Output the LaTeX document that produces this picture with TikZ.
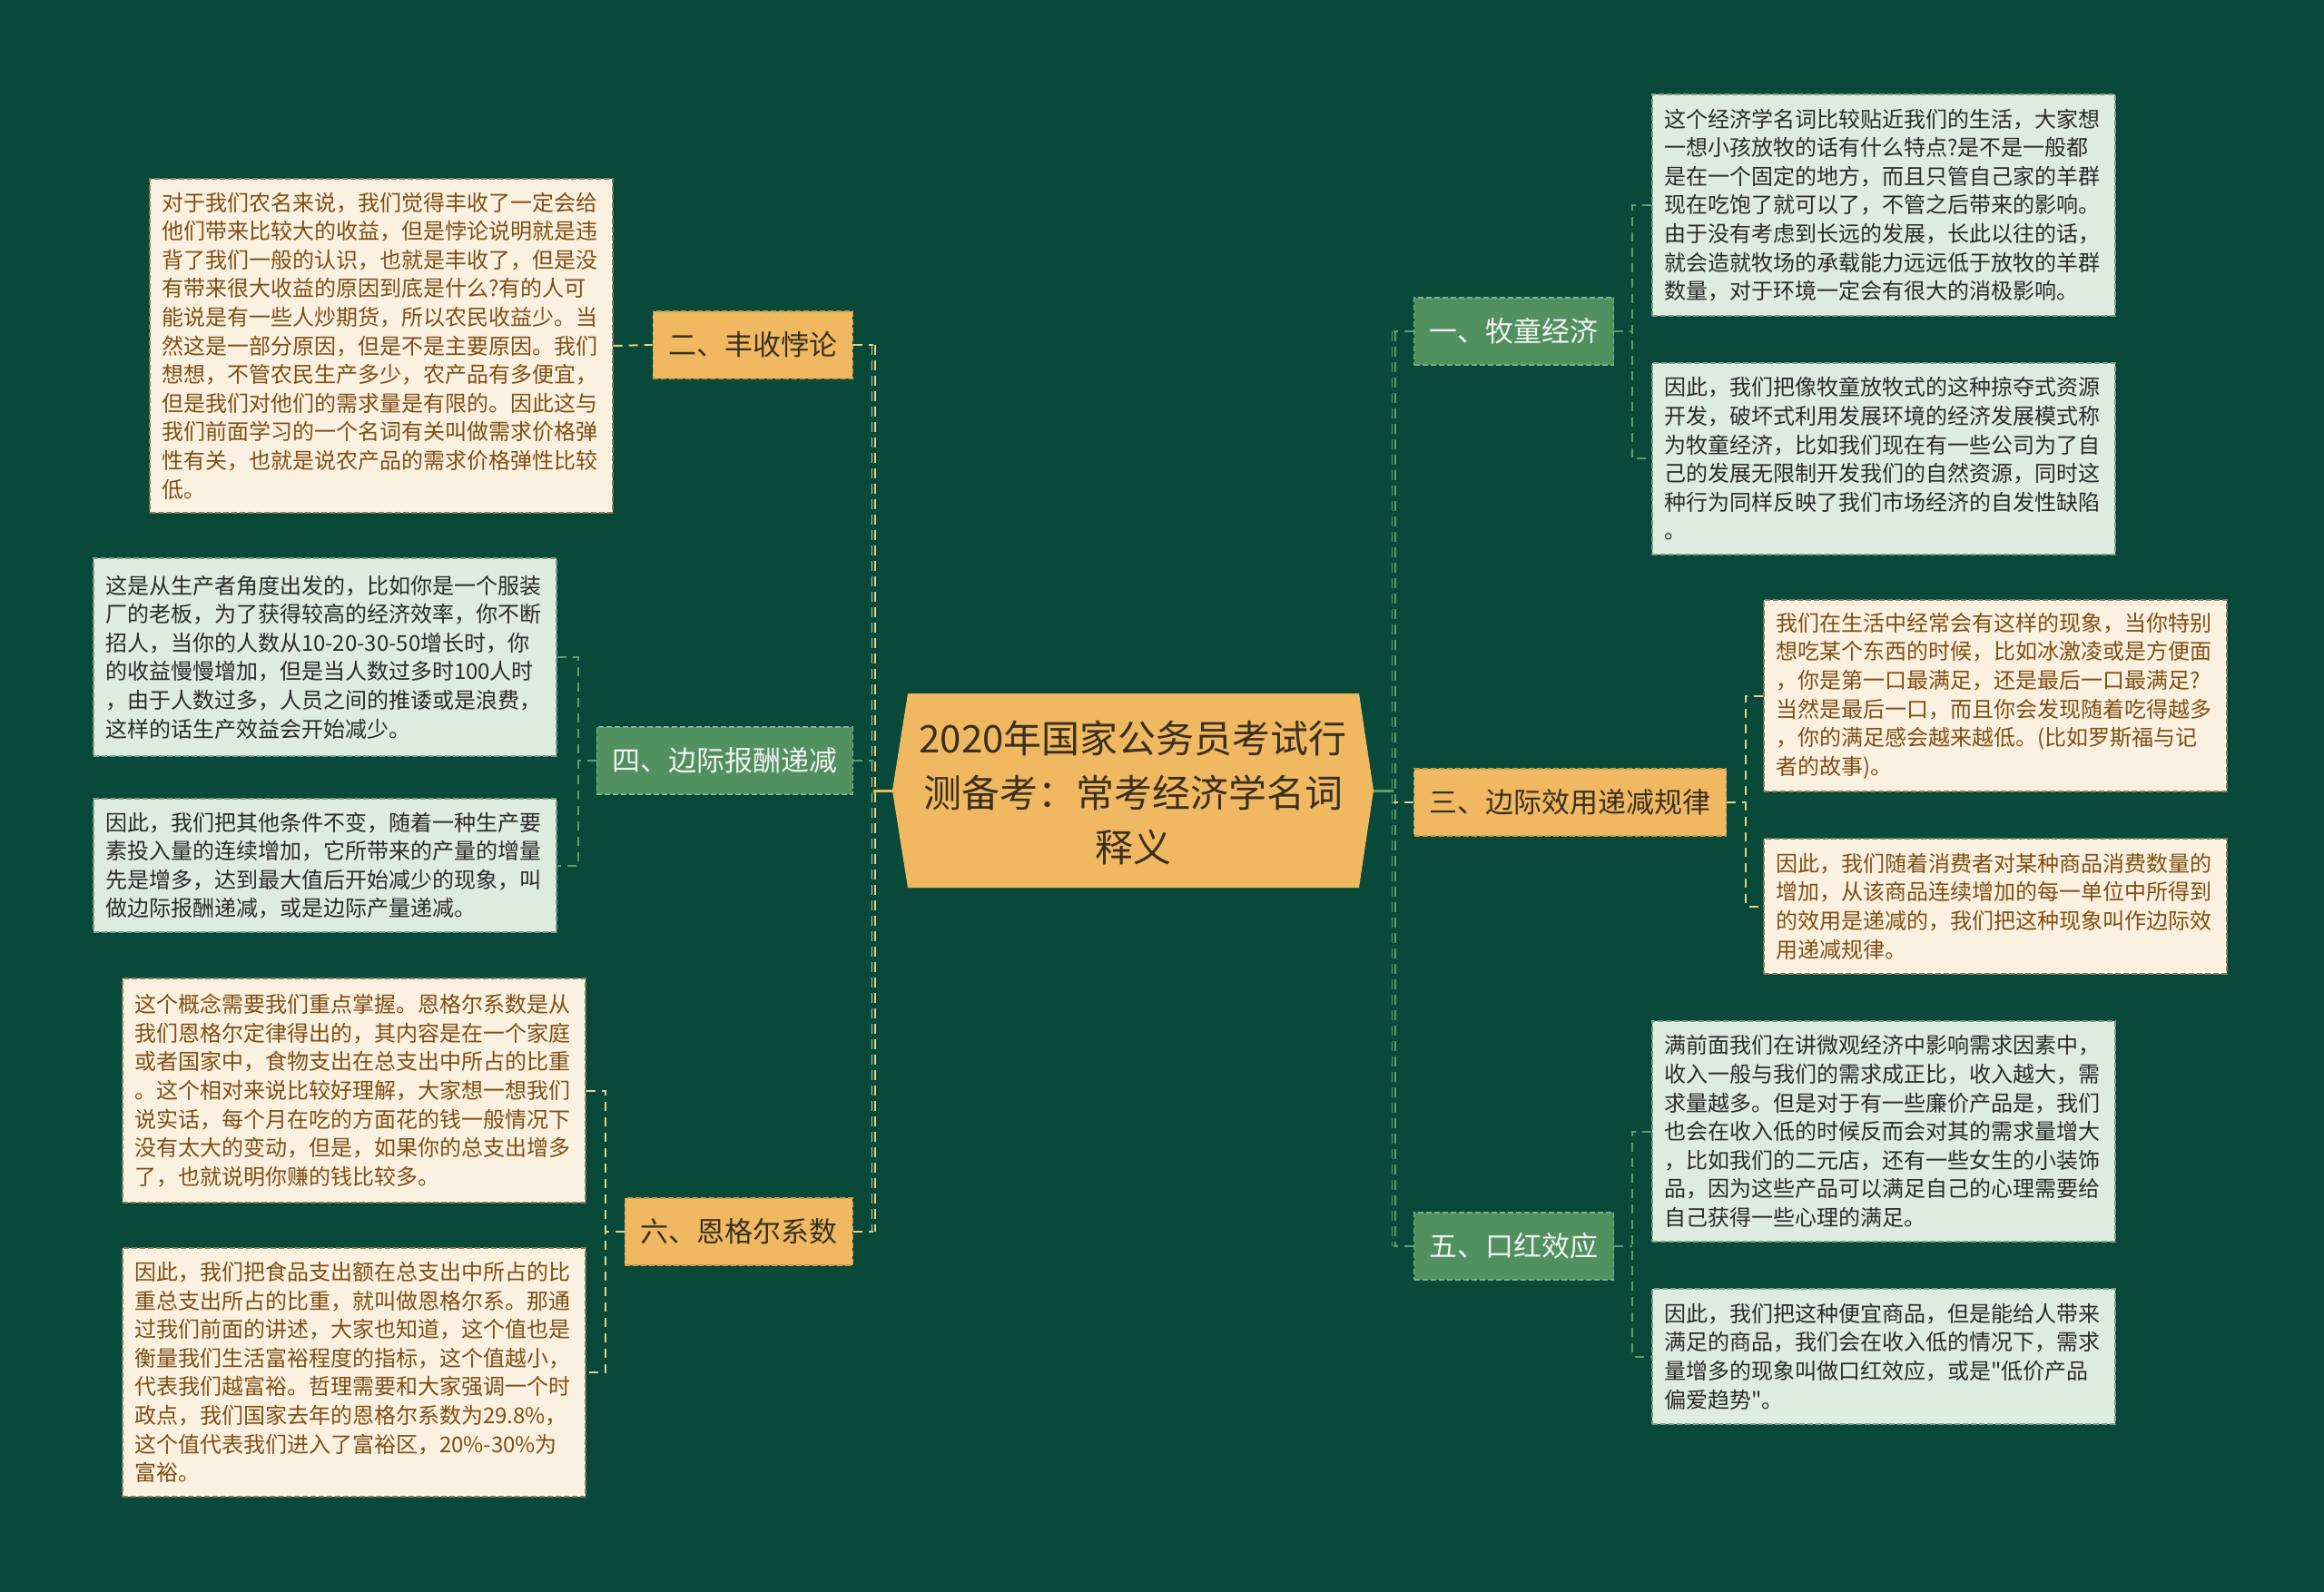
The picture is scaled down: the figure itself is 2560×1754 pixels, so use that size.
\documentclass[tikz,border=0pt]{standalone}
\usepackage{fontspec}
\setmainfont{Noto Sans CJK SC}[Ligatures=TeXOff]
\definecolor{bgc}{HTML}{08493A}
\definecolor{orF}{HTML}{F0B961}
\definecolor{orD}{HTML}{C99A48}
\definecolor{grF}{HTML}{50915F}
\definecolor{grD}{HTML}{7DB38A}
\definecolor{crF}{HTML}{FBF1E1}
\definecolor{crD}{HTML}{8C7A58}
\definecolor{lgF}{HTML}{DDEBE1}
\definecolor{lgD}{HTML}{7E9C88}
\definecolor{brT}{HTML}{7F4F14}
\definecolor{dkT}{HTML}{2B2B2B}
\definecolor{obT}{HTML}{3A3020}
\definecolor{lnY}{HTML}{E6CF8A}
\definecolor{lnG}{HTML}{5E9E6E}
\definecolor{lnO}{HTML}{E9B860}
\begin{document}
\begin{tikzpicture}[x=0.5pt,y=-0.5pt,
  leafbase/.style={rectangle, line width=0.7pt, dash pattern=on 3pt off 1.5pt,
    font=\fontsize{12}{15.8}\selectfont, align=left, text width=242pt,
    inner sep=0pt, minimum width=255pt},
  leafC/.style={leafbase, fill=crF, draw=crD, text=brT},
  leafG/.style={leafbase, fill=lgF, draw=lgD, text=dkT},
  brbase/.style={rectangle, line width=0.7pt, dash pattern=on 3pt off 1.5pt,
    font=\fontsize{15.5}{18}\selectfont, inner xsep=8.5pt, inner ysep=0pt,
    minimum height=37pt},
  brO/.style={brbase, fill=orF, draw=orD, text=obT},
  brG/.style={brbase, fill=grF, draw=grD, text=white!95!black},
  lkY/.style={draw=lnY, line width=1pt, dash pattern=on 5pt off 3.5pt},
  lkG/.style={draw=lnG, line width=1pt, dash pattern=on 5pt off 3.5pt},
  trunkY/.style={draw=lnY, double=bgc, line width=0.8pt, double distance=0.9pt, dash pattern=on 5.5pt off 3pt},
  trunkG/.style={draw=lnG, double=bgc, line width=0.8pt, double distance=0.9pt, dash pattern=on 5.5pt off 3pt},
]
\fill[bgc] (0,0) rectangle (2560,1754);
\useasboundingbox (0,0) rectangle (2560,1754);

% central node
\coordinate (cL) at (983,871);
\coordinate (cR) at (1513,871);
\fill[orF] (cL) -- (1000,764) -- (1497,764) -- (cR) -- (1497,978) -- (1000,978) -- cycle;
\node[font=\fontsize{21}{30}\selectfont, text=obT, align=center, inner sep=0pt] (c) at (1248,873)
  {2020年国家公务员考试行\\测备考：常考经济学名词\\释义};

% branches
\node[brO, anchor=east] (B2) at (940,380) {二、丰收悖论};
\node[brG, anchor=east] (B4) at (940,838) {四、边际报酬递减};
\node[brO, anchor=east] (B6) at (940,1357) {六、恩格尔系数};
\node[brG, anchor=west] (B1) at (1557,365) {一、牧童经济};
\node[brO, anchor=west] (B3) at (1557,884) {三、边际效用递减规律};
\node[brG, anchor=west] (B5) at (1557,1373) {五、口红效应};

% leaves
\node[leafC, minimum height=184pt] (L1) at (420,381) {对于我们农名来说，我们觉得丰收了一定会给\\他们带来比较大的收益，但是悖论说明就是违\\背了我们一般的认识，也就是丰收了，但是没\\有带来很大收益的原因到底是什么?有的人可\\能说是有一些人炒期货，所以农民收益少。当\\然这是一部分原因，但是不是主要原因。我们\\想想，不管农民生产多少，农产品有多便宜，\\但是我们对他们的需求量是有限的。因此这与\\我们前面学习的一个名词有关叫做需求价格弹\\性有关，也就是说农产品的需求价格弹性比较\\低。};
\node[leafG, minimum height=109pt] (L2) at (358,724) {这是从生产者角度出发的，比如你是一个服装\\厂的老板，为了获得较高的经济效率，你不断\\招人，当你的人数从10-20-30-50增长时，你\\的收益慢慢增加，但是当人数过多时100人时\\，由于人数过多，人员之间的推诿或是浪费，\\这样的话生产效益会开始减少。};
\node[leafG, minimum height=73.5pt] (L3) at (358,953.5) {因此，我们把其他条件不变，随着一种生产要\\素投入量的连续增加，它所带来的产量的增量\\先是增多，达到最大值后开始减少的现象，叫\\做边际报酬递减，或是边际产量递减。};
\node[leafC, minimum height=123.5pt] (L4) at (390,1201.5) {这个概念需要我们重点掌握。恩格尔系数是从\\我们恩格尔定律得出的，其内容是在一个家庭\\或者国家中，食物支出在总支出中所占的比重\\。这个相对来说比较好理解，大家想一想我们\\说实话，每个月在吃的方面花的钱一般情况下\\没有太大的变动，但是，如果你的总支出增多\\了，也就说明你赚的钱比较多。};
\node[leafC, minimum height=137pt] (L5) at (390,1512) {因此，我们把食品支出额在总支出中所占的比\\重总支出所占的比重，就叫做恩格尔系。那通\\过我们前面的讲述，大家也知道，这个值也是\\衡量我们生活富裕程度的指标，这个值越小，\\代表我们越富裕。哲理需要和大家强调一个时\\政点，我们国家去年的恩格尔系数为29.8\%，\\这个值代表我们进入了富裕区，20\%-30\%为\\富裕。};
\node[leafG, minimum height=122pt] (R1) at (2075,226) {这个经济学名词比较贴近我们的生活，大家想\\一想小孩放牧的话有什么特点?是不是一般都\\是在一个固定的地方，而且只管自己家的羊群\\现在吃饱了就可以了，不管之后带来的影响。\\由于没有考虑到长远的发展，长此以往的话，\\就会造就牧场的承载能力远远低于放牧的羊群\\数量，对于环境一定会有很大的消极影响。};
\node[leafG, minimum height=105.5pt] (R2) at (2075,505.5) {因此，我们把像牧童放牧式的这种掠夺式资源\\开发，破坏式利用发展环境的经济发展模式称\\为牧童经济，比如我们现在有一些公司为了自\\己的发展无限制开发我们的自然资源，同时这\\种行为同样反映了我们市场经济的自发性缺陷\\。};
\node[leafC, minimum height=105.5pt] (R3) at (2198,766.5) {我们在生活中经常会有这样的现象，当你特别\\想吃某个东西的时候，比如冰激凌或是方便面\\，你是第一口最满足，还是最后一口最满足?\\当然是最后一口，而且你会发现随着吃得越多\\，你的满足感会越来越低。(比如罗斯福与记\\者的故事)。};
\node[leafC, minimum height=74.5pt] (R4) at (2198,998.5) {因此，我们随着消费者对某种商品消费数量的\\增加，从该商品连续增加的每一单位中所得到\\的效用是递减的，我们把这种现象叫作边际效\\用递减规律。};
\node[leafG, minimum height=121.5pt] (R5) at (2075,1246.5) {满前面我们在讲微观经济中影响需求因素中，\\收入一般与我们的需求成正比，收入越大，需\\求量越多。但是对于有一些廉价产品是，我们\\也会在收入低的时候反而会对其的需求量增大\\，比如我们的二元店，还有一些女生的小装饰\\品，因为这些产品可以满足自己的心理需要给\\自己获得一些心理的满足。};
\node[leafG, minimum height=74.5pt] (R6) at (2075,1494.5) {因此，我们把这种便宜商品，但是能给人带来\\满足的商品，我们会在收入低的情况下，需求\\量增多的现象叫做口红效应，或是"低价产品\\偏爱趋势"。};

% trunks
\coordinate (tL) at (962,871);
\coordinate (tR) at (1535,871);
\draw[trunkY] (B2.east -| tL) -- (B6.east -| tL);
\draw[trunkG] (B1.west -| tR) -- (B5.west -| tR);
\draw[draw=lnO, line width=1.5pt] (tL) -- (cL);
\draw[draw=lnG, line width=1.5pt] (cR) -- (tR);
\draw[lkY] (B2.east) -- (B2.east -| tL);
\draw[lkG] (B4.east) -- (B4.east -| tL);
\draw[lkY] (B6.east) -- (B6.east -| tL);
\draw[lkG] (B1.west) -- (B1.west -| tR);
\draw[lkY] (B3.west) -- (B3.west -| tR);
\draw[lkG] (B5.west) -- (B5.west -| tR);

% leaf connectors
\coordinate (k4) at (637,0);
\coordinate (k6) at (667,0);
\coordinate (k1) at (1798,0);
\coordinate (k3) at (1923,0);
\coordinate (k5) at (1798,0);
\draw[lkY] (L1.east) -- (B2.west);
\draw[lkG] (L2.east) -- (L2.east -| k4) -- (L3.east -| k4) -- (L3.east);
\draw[lkG] (B4.west) -- (B4.west -| k4);
\draw[lkY] (L4.east) -- (L4.east -| k6) -- (L5.east -| k6) -- (L5.east);
\draw[lkY] (B6.west) -- (B6.west -| k6);
\draw[lkG] (R1.west) -- (R1.west -| k1) -- (R2.west -| k1) -- (R2.west);
\draw[lkG] (B1.east) -- (B1.east -| k1);
\draw[lkY] (R3.west) -- (R3.west -| k3) -- (R4.west -| k3) -- (R4.west);
\draw[lkY] (B3.east) -- (B3.east -| k3);
\draw[lkG] (R5.west) -- (R5.west -| k5) -- (R6.west -| k5) -- (R6.west);
\draw[lkG] (B5.east) -- (B5.east -| k5);
\end{tikzpicture}
\end{document}
